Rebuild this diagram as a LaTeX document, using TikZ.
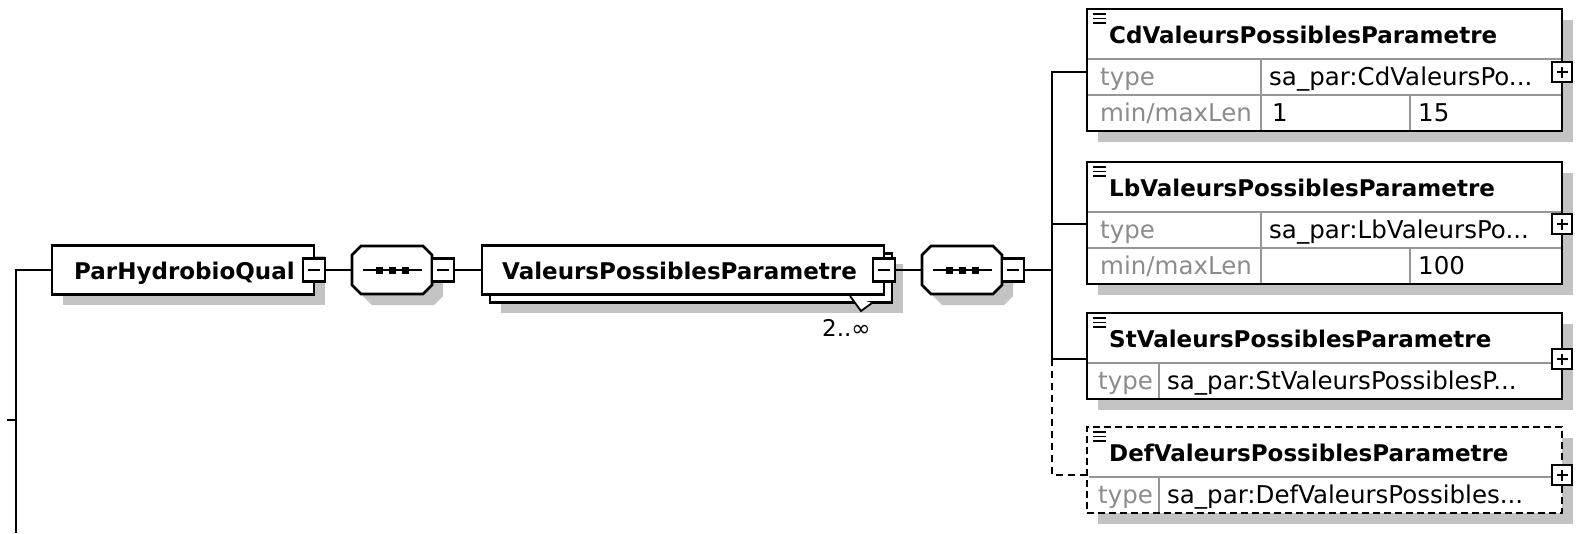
\documentclass[tikz,border=0pt]{standalone}
\usepackage{fontspec}
\setmainfont{DejaVu Sans}
\definecolor{shd}{RGB}{195,195,195}
\definecolor{lbl}{RGB}{140,140,140}
\definecolor{dvc}{RGB}{150,150,150}
\begin{document}
\begin{tikzpicture}[x=1pt,y=-1pt,
  bx/.style={draw=black, line width=2.7pt, fill=white, rectangle, inner sep=0pt, outer sep=0pt},
  dbx/.style={bx, dash pattern=on 7pt off 4pt},
  holder/.style={inner sep=0pt, outer sep=0pt, minimum width=80pt, minimum height=48pt},
  btn/.style={draw=black, line width=2.2pt, fill=white, minimum width=22pt, minimum height=23pt, inner sep=0pt, outer sep=0pt},
  pbtn/.style={btn, minimum width=20pt, minimum height=20pt},
  conn/.style={line width=2.6pt},
  dconn/.style={line width=2.6pt, dash pattern=on 7pt off 5pt},
  divl/.style={line width=2pt, dvc},
  sgn/.style={line width=2pt},
  ttl/.style={font=\fontsize{23}{28}\selectfont\bfseries, anchor=base west, inner sep=0pt},
  lbt/.style={font=\fontsize{24.5}{28}\selectfont, text=lbl, anchor=base west, inner sep=0pt},
  vtx/.style={font=\fontsize{24.5}{28}\selectfont, anchor=base west, inner sep=0pt},
  icon/.style={line width=1.7pt},
  shadow/.style={fill=shd, draw=none},
]
\useasboundingbox (0,0) rectangle (1576,533);

% ---------- shadows ----------
\fill[shadow] (63,256) rectangle (325,305);
\fill[shadow, shift={(403,281)}] (-31,-24) -- (31,-24) -- (40,-15) -- (40,15) -- (31,24) -- (-31,24) -- (-40,15) -- (-40,-15) -- cycle;
\fill[shadow] (501,264) rectangle (903,313);
\fill[shadow, shift={(973,281)}] (-31,-24) -- (31,-24) -- (40,-15) -- (40,15) -- (31,24) -- (-31,24) -- (-40,15) -- (-40,-15) -- cycle;
\fill[shadow] (1098,20) rectangle (1573,142);
\fill[shadow] (1098,173) rectangle (1573,295);
\fill[shadow] (1098,324) rectangle (1573,410);
\fill[shadow] (1098,438) rectangle (1573,524);

% ---------- ParHydrobioQual ----------
\node[bx, minimum width=262pt, minimum height=49pt] (P) at (183,270) {};
\node[ttl] (Pt) at (74,279) {ParHydrobioQual};
\node[btn] (Pb) at (314,270) {};
\draw[sgn] ([xshift=-6pt]Pb.center) -- ([xshift=6pt]Pb.center);

% ---------- sequence 1 ----------
\node[holder] (O1) at (392,270) {};
\draw[bx, shift={(392,270)}] (-31,-24) -- (31,-24) -- (40,-15) -- (40,15) -- (31,24) -- (-31,24) -- (-40,15) -- (-40,-15) -- cycle;
\draw[line width=2pt] (363,270) -- (422,270);
\foreach \sx in {379,392,405} \fill (\sx-3.5,266.5) rectangle (\sx+3.5,273.5);
\node[btn] (O1b) at (443,270) {};
\draw[sgn] ([xshift=-6pt]O1b.center) -- ([xshift=6pt]O1b.center);

% ---------- ValeursPossiblesParametre ----------
\node[bx, minimum width=402pt, minimum height=49pt] (Vback) at (691,278) {};
\node[bx, minimum width=402pt, minimum height=49pt] (V) at (683,270) {};
\draw[line width=1.8pt, fill=white] (850,296) -- (861,311) -- (872,303);
\node[ttl] (Vt) at (502,279) {ValeursPossiblesParametre};
\node[btn] (Vb) at (884,270) {};
\draw[sgn] ([xshift=-6pt]Vb.center) -- ([xshift=6pt]Vb.center);
\node[vtx, font=\fontsize{23}{28}\selectfont] (Vocc) at (822,336) {2..∞};

% ---------- sequence 2 ----------
\node[holder] (O2) at (962,270) {};
\draw[bx, shift={(962,270)}] (-31,-24) -- (31,-24) -- (40,-15) -- (40,15) -- (31,24) -- (-31,24) -- (-40,15) -- (-40,-15) -- cycle;
\draw[line width=2pt] (933,270) -- (992,270);
\foreach \sx in {949,962,975} \fill (\sx-3.5,266.5) rectangle (\sx+3.5,273.5);
\node[btn] (O2b) at (1013,270) {};
\draw[sgn] ([xshift=-6pt]O2b.center) -- ([xshift=6pt]O2b.center);

% ---------- CdValeursPossiblesParametre ----------
\node[bx, minimum width=475pt, minimum height=122pt] (Cd) at (1324.5,70) {};
\draw[divl] (1088,59) -- (1561,59);
\draw[divl] (1088,95) -- (1561,95);
\draw[divl] (1261,59) -- (1261,130);
\draw[divl] (1410,95) -- (1410,130);
\draw[line width=2.7pt] (Cd.north west) rectangle (Cd.south east);
\foreach \iy in {14,18.5,23} \draw[icon] (1093,\iy) -- (1106,\iy);
\node[ttl] (Cdt) at (1109,43) {CdValeursPossiblesParametre};
\node[lbt] (Cdl1) at (1100,85) {type};
\node[vtx] (Cdv1) at (1269,85) {sa\_par:CdValeursPo...};
\node[lbt] (Cdl2) at (1100,121) {min/maxLen};
\node[vtx] (Cdv2) at (1272,121) {1};
\node[vtx] (Cdv3) at (1418,121) {15};
\node[pbtn] (Cdb) at (1562,72) {};
\draw[sgn] ([xshift=-5.5pt]Cdb.center) -- ([xshift=5.5pt]Cdb.center) ([yshift=-5.5pt]Cdb.center) -- ([yshift=5.5pt]Cdb.center);

% ---------- LbValeursPossiblesParametre ----------
\node[bx, minimum width=475pt, minimum height=122pt] (Lb) at (1324.5,223) {};
\draw[divl] (1088,212) -- (1561,212);
\draw[divl] (1088,248) -- (1561,248);
\draw[divl] (1261,212) -- (1261,283);
\draw[divl] (1410,248) -- (1410,283);
\draw[line width=2.7pt] (Lb.north west) rectangle (Lb.south east);
\foreach \iy in {167,171.5,176} \draw[icon] (1093,\iy) -- (1106,\iy);
\node[ttl] (Lbt) at (1109,196) {LbValeursPossiblesParametre};
\node[lbt] (Lbl1) at (1100,238) {type};
\node[vtx] (Lbv1) at (1269,238) {sa\_par:LbValeursPo...};
\node[lbt] (Lbl2) at (1100,274) {min/maxLen};
\node[vtx] (Lbv3) at (1418,274) {100};
\node[pbtn] (Lbb) at (1562,224) {};
\draw[sgn] ([xshift=-5.5pt]Lbb.center) -- ([xshift=5.5pt]Lbb.center) ([yshift=-5.5pt]Lbb.center) -- ([yshift=5.5pt]Lbb.center);

% ---------- StValeursPossiblesParametre ----------
\node[bx, minimum width=475pt, minimum height=86pt] (St) at (1324.5,356) {};
\draw[divl] (1088,363) -- (1561,363);
\draw[divl] (1159,363) -- (1159,398);
\draw[line width=2.7pt] (St.north west) rectangle (St.south east);
\foreach \iy in {318,322.5,327} \draw[icon] (1093,\iy) -- (1106,\iy);
\node[ttl] (Stt) at (1109,347) {StValeursPossiblesParametre};
\node[lbt] (Stl1) at (1098,389) {type};
\node[vtx] (Stv1) at (1167,389) {sa\_par:StValeursPossiblesP...};
\node[pbtn] (Stb) at (1562,359) {};
\draw[sgn] ([xshift=-5.5pt]Stb.center) -- ([xshift=5.5pt]Stb.center) ([yshift=-5.5pt]Stb.center) -- ([yshift=5.5pt]Stb.center);

% ---------- DefValeursPossiblesParametre (optional) ----------
\node[dbx, minimum width=475pt, minimum height=86pt] (Def) at (1324.5,470) {};
\draw[divl] (1089,477) -- (1560,477);
\draw[divl] (1159,477) -- (1159,512);
\foreach \iy in {432,436.5,441} \draw[icon] (1093,\iy) -- (1106,\iy);
\node[ttl] (Deft) at (1109,461) {DefValeursPossiblesParametre};
\node[lbt] (Defl1) at (1098,503) {type};
\node[vtx] (Defv1) at (1167,503) {sa\_par:DefValeursPossibles...};
\node[pbtn] (Defb) at (1562,475) {};
\draw[sgn] ([xshift=-5.5pt]Defb.center) -- ([xshift=5.5pt]Defb.center) ([yshift=-5.5pt]Defb.center) -- ([yshift=5.5pt]Defb.center);

% ---------- connectors ----------
\coordinate (L0) at (16,533);
\coordinate (Ltick) at (7,420);
\draw[conn] (L0) |- (P.west);
\draw[conn] (Ltick) -- (Ltick -| L0);
\draw[conn] (Pb.east) -- (O1.west);
\draw[conn] (O1b.east) -- (V.west);
\draw[conn] (Vb.east) -- (O2.west);
\coordinate (J) at (1052,270);
\draw[conn] (O2b.east) -- (J);
\draw[conn] ([yshift=-2pt]Cd.west) -| (J |- Stb) -- (St.west |- Stb);
\draw[conn] (J |- Lbb) -- (Lb.west |- Lbb);
\draw[dconn] (J |- Stb) |- (Def.west |- Defb);
\end{tikzpicture}
\end{document}
